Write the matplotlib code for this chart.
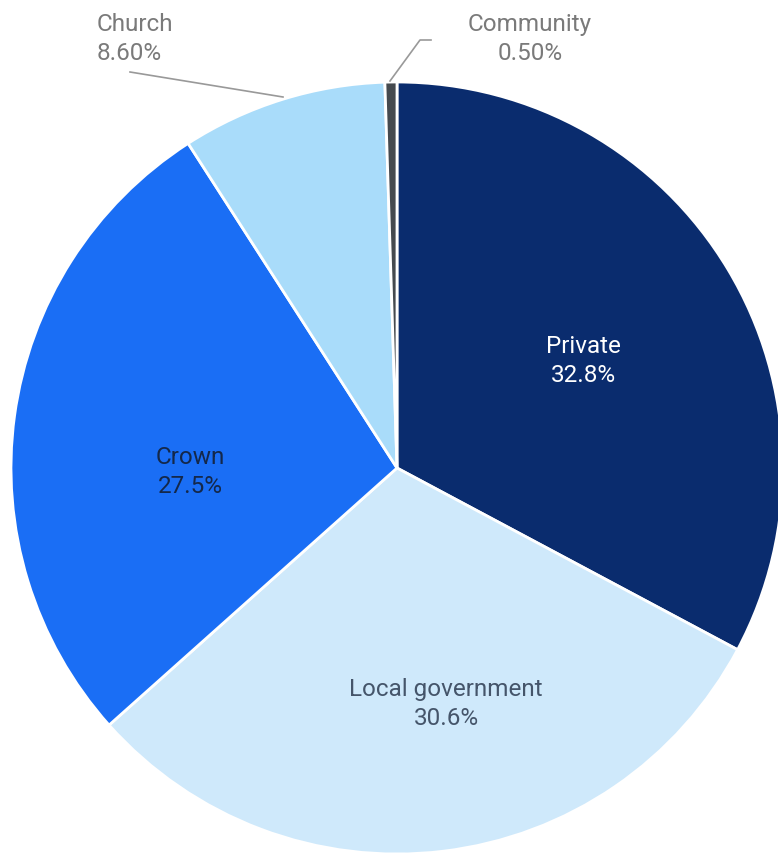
import matplotlib
matplotlib.use("Agg")
import matplotlib.pyplot as plt

plt.rcParams["font.family"] = ["Roboto", "DejaVu Sans"]

# land ownership shares, clockwise from 12 o'clock
owners = ["Private", "Local government", "Crown", "Church", "Community"]
shares = [32.8, 30.6, 27.5, 8.6, 0.5]
share_text = ["32.8%", "30.6%", "27.5%", "8.60%", "0.50%"]
colours = ["#0a2c6e", "#cfe9fb", "#1a6ef5", "#a9dcfa", "#454a4f"]

W, H = 778, 856
fig = plt.figure(figsize=(W / 100, H / 100), dpi=100)
ax = fig.add_axes([0, 0, 1, 1])

cx, cy, r = 397, 468, 386
# pie drawn in a flipped y-axis, so counterclock=True runs clockwise on screen
# and startangle -90 points at the top
ax.pie(shares, colors=colours, startangle=-90, counterclock=True,
       center=(cx, cy), radius=r, frame=True,
       wedgeprops=dict(edgecolor="white", linewidth=2))
ax.set_xlim(0, W)
ax.set_ylim(H, 0)
ax.set_aspect("equal")
ax.axis("off")

fs = 17.5
ls = 1.3
# labels inside the big slices
inside = {
    "Private": ((583, 361), "white"),
    "Crown": ((190, 472), "#14284a"),
    "Local government": ((446, 704), "#45556a"),
}
for name, ((x, y), col) in inside.items():
    i = owners.index(name)
    ax.text(x, y, f"{name}\n{share_text[i]}", ha="center", va="center",
            fontsize=fs, color=col, linespacing=ls)

# small slices labelled outside with leader lines
grey = "#7a7a7a"
ax.text(97, 39, f"Church\n{share_text[3]}", ha="left", va="center",
        fontsize=fs, color=grey, linespacing=ls)
ax.plot([130, 283], [72, 97], color="#999999", lw=1.2)
ax.text(530, 39, f"Community\n{share_text[4]}", ha="center", va="center",
        fontsize=fs, color=grey, linespacing=ls)
ax.plot([390, 420, 431], [81, 40, 40], color="#999999", lw=1.2)

fig.savefig("out.png", dpi=100)
